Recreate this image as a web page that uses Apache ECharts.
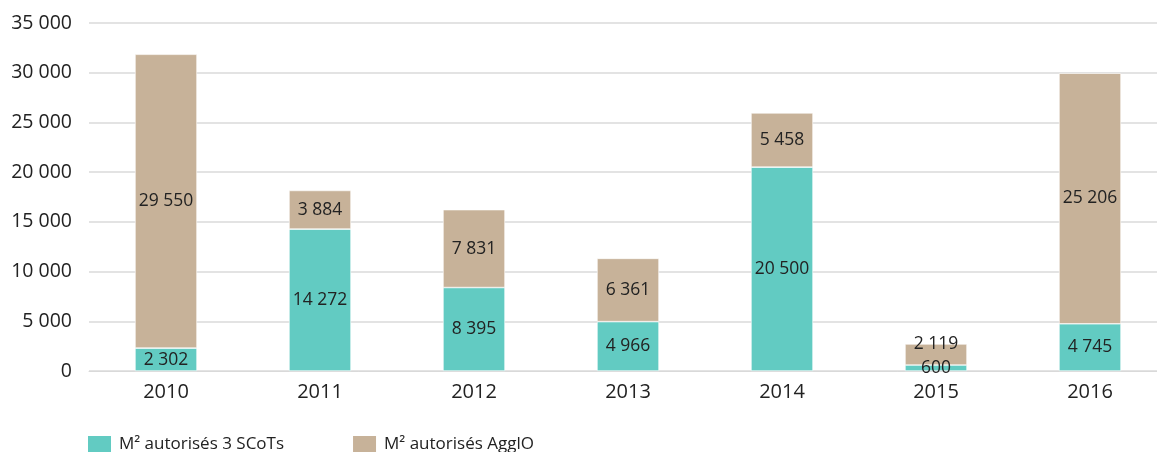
<!DOCTYPE html>
<html>
<head>
<meta charset="utf-8">
<script src="https://cdn.jsdelivr.net/npm/echarts@6/dist/echarts.min.js"></script>
<style>html,body{margin:0;padding:0;background:#fff;overflow:hidden}#c{width:1170px;height:452px}</style>
</head>
<body>
<div id="c"></div>
<script>
const categories = ['2010','2011','2012','2013','2014','2015','2016'];
const scots = [2302, 14272, 8395, 4966, 20500, 600, 4745];
const agglo = [29550, 3884, 7831, 6361, 5458, 2119, 25206];
const seriesNames = ['M² autorisés 3 SCoTs', 'M² autorisés AgglO'];
const yTicks = {min: 0, max: 35000, interval: 5000};

function fmt(v){ return String(v).replace(/\B(?=(\d{3})+(?!\d))/g, ' '); }
const FONT = '"Open Sans", "Noto Sans", sans-serif';

const chart = echarts.init(document.getElementById('c'));
chart.setOption({
  animation: false,
  textStyle: {fontFamily: FONT},
  grid: {left: 89, top: 23, width: 1078, height: 348},
  legend: {
    left: 81, top: 429, itemWidth: 25, itemHeight: 18, itemGap: 67,
    icon: 'rect',
    textStyle: {fontSize: 17, color: '#222', fontFamily: FONT, padding: [0,0,0,2]},
    data: seriesNames
  },
  xAxis: {
    type: 'category', data: categories,
    axisLine: {lineStyle: {color: '#d9d9d9', width: 1}},
    axisTick: {show: false},
    axisLabel: {fontSize: 20, color: '#222', margin: 11}
  },
  yAxis: {
    type: 'value', min: yTicks.min, max: yTicks.max, interval: yTicks.interval,
    axisLine: {show: false}, axisTick: {show: false},
    splitLine: {lineStyle: {color: '#e3e3e3', width: 2}},
    axisLabel: {fontSize: 19.5, color: '#222', margin: 17, formatter: fmt}
  },
  series: [
    {
      name: seriesNames[0], type: 'bar', stack: 's', barWidth: 62,
      itemStyle: {color: '#62cbc2', borderColor: '#fff', borderWidth: 0.6},
      label: {show: true, position: 'inside', fontSize: 17.5, color: '#222', formatter: p => fmt(p.value)},
      data: scots
    },
    {
      name: seriesNames[1], type: 'bar', stack: 's', barWidth: 62,
      itemStyle: {color: '#c7b299', borderColor: '#fff', borderWidth: 0.6},
      label: {show: true, position: 'inside', fontSize: 17.5, color: '#222', formatter: p => fmt(p.value)},
      data: agglo.map((v, i) => i === 5 ? {value: v, label: {offset: [0, -10]}} : v)
    }
  ]
});
</script>
</body>
</html>
